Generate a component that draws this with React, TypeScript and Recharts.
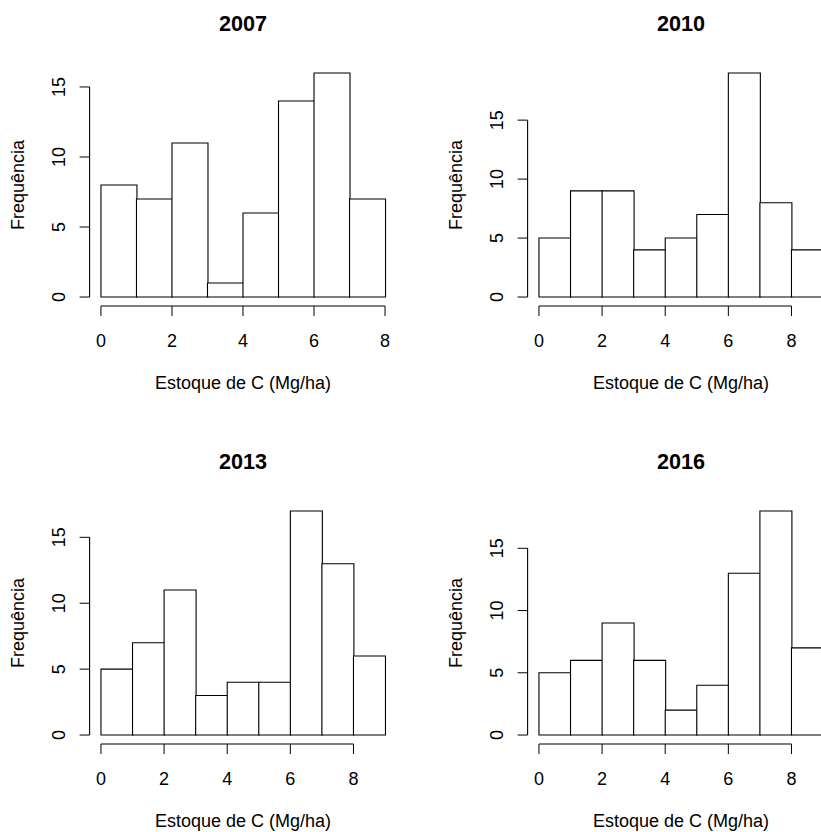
import { ComposedChart, Bar, XAxis, YAxis, ReferenceLine } from "recharts";

// histogramas do estoque de C por ano (contagens por classe de 1 Mg/ha)
const bins8 = ["0-1", "1-2", "2-3", "3-4", "4-5", "5-6", "6-7", "7-8"];
const bins9 = ["0-1", "1-2", "2-3", "3-4", "4-5", "5-6", "6-7", "7-8", "8-9"];
const mids9 = [0.5, 1.5, 2.5, 3.5, 4.5, 5.5, 6.5, 7.5, 8.5];

const counts2007 = [8, 7, 11, 1, 6, 14, 16, 7];
const counts2010 = [5, 9, 9, 4, 5, 7, 19, 8, 4];
const counts2013 = [5, 7, 11, 3, 4, 4, 17, 13, 6];
const counts2016 = [5, 6, 9, 6, 2, 4, 13, 18, 7];

const xTicks = [0, 2, 4, 6, 8];
const yTicks = [0, 5, 10, 15];

const FONT = "'Liberation Sans', Arial, sans-serif";
const PANEL = 438;
const M_LEFT = 89.6;
const M_RIGHT = 41.6;
const M_TOP = 64;
const M_BOTTOM = 132;
const PLOT_W = PANEL - M_LEFT - M_RIGHT;

const YTick = (props: any) => {
  const { x, y, payload } = props;
  return (
    <text
      x={x}
      y={y}
      transform={`rotate(-90 ${x} ${y})`}
      textAnchor="middle"
      fontSize={18}
      fontFamily={FONT}
      fill="#000"
    >
      {payload.value}
    </text>
  );
};

const Panel = ({
  title,
  bins,
  counts,
  left,
  top,
}: {
  title: string;
  bins: string[];
  counts: number[];
  left: number;
  top: number;
}) => {
  const n = bins.length;
  const maxC = Math.max(...counts);
  const xPad = 0.04 * n;
  const yPad = 0.04 * maxC;
  const padPx = (PLOT_W * 0.04) / 1.08;
  const data = bins.map((b, i) => ({ bin: b, mid: mids9[i], count: counts[i] }));

  return (
    <div style={{ position: "absolute", left, top, width: PANEL, height: PANEL }}>
      <div
        style={{
          position: "absolute",
          left: M_LEFT,
          width: PLOT_W,
          top: 13.4,
          textAlign: "center",
          fontFamily: FONT,
          fontWeight: "bold",
          fontSize: 21.6,
          lineHeight: 1,
        }}
      >
        {title}
      </div>
      <ComposedChart
        width={PANEL}
        height={PANEL}
        data={data}
        barCategoryGap={0}
        margin={{ top: M_TOP, right: M_RIGHT, bottom: 0, left: 0 }}
      >
        <XAxis
          xAxisId="num"
          dataKey="mid"
          type="number"
          domain={[-xPad, n + xPad]}
          allowDataOverflow
          ticks={xTicks}
          height={M_BOTTOM}
          tickSize={10}
          tickMargin={18}
          axisLine={false}
          stroke="#000"
          tick={{ fill: "#000", fontSize: 18, fontFamily: FONT }}
          label={(p: any) => {
            const vb = p.viewBox || { x: M_LEFT, y: PANEL - M_BOTTOM, width: PLOT_W };
            return (
              <text
                x={vb.x + vb.width / 2}
                y={vb.y + 83.3}
                textAnchor="middle"
                fontSize={18}
                fontFamily={FONT}
                fill="#000"
              >
                Estoque de C (Mg/ha)
              </text>
            );
          }}
        />
        <XAxis
          xAxisId="cat"
          dataKey="bin"
          type="category"
          hide
          height={0}
          padding={{ left: padPx, right: padPx }}
        />
        <YAxis
          type="number"
          domain={[-yPad, maxC + yPad]}
          allowDataOverflow
          ticks={yTicks}
          width={M_LEFT}
          tickSize={10}
          tickMargin={14.6}
          axisLine={false}
          stroke="#000"
          tick={<YTick />}
          label={(p: any) => {
            const vb = p.viewBox || { x: 0, y: M_TOP, height: PANEL - M_TOP - M_BOTTOM };
            const cx = vb.x + 24;
            const cy = vb.y + vb.height / 2;
            return (
              <text
                x={cx}
                y={cy}
                transform={`rotate(-90 ${cx} ${cy})`}
                textAnchor="middle"
                fontSize={18}
                fontFamily={FONT}
                fill="#000"
              >
                Frequência
              </text>
            );
          }}
        />
        <Bar
          xAxisId="cat"
          dataKey="count"
          fill="#fff"
          stroke="#000"
          strokeWidth={1.1}
          isAnimationActive={false}
        />
        <ReferenceLine
          xAxisId="num"
          ifOverflow="visible"
          segment={[
            { x: xTicks[0], y: -yPad },
            { x: xTicks[xTicks.length - 1], y: -yPad },
          ]}
          stroke="#000"
          strokeWidth={1.1}
        />
        <ReferenceLine
          xAxisId="num"
          ifOverflow="visible"
          segment={[
            { x: -xPad, y: yTicks[0] },
            { x: -xPad, y: yTicks[yTicks.length - 1] },
          ]}
          stroke="#000"
          strokeWidth={1.1}
        />
      </ComposedChart>
    </div>
  );
};

export default function App() {
  return (
    <div
      style={{
        position: "absolute",
        left: 0,
        top: 0,
        width: 821,
        height: 832,
        overflow: "hidden",
        background: "#fff",
      }}
    >
      <Panel title="2007" bins={bins8} counts={counts2007} left={0} top={0} />
      <Panel title="2010" bins={bins9} counts={counts2010} left={PANEL} top={0} />
      <Panel title="2013" bins={bins9} counts={counts2013} left={0} top={PANEL} />
      <Panel title="2016" bins={bins9} counts={counts2016} left={PANEL} top={PANEL} />
    </div>
  );
}
